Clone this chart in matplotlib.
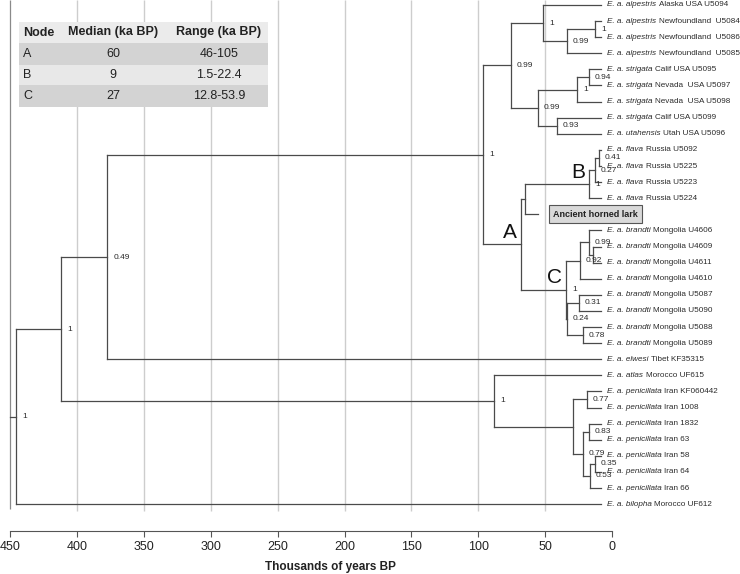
import numpy as np
import matplotlib
matplotlib.use('Agg')
import matplotlib.pyplot as plt
from matplotlib.patches import Rectangle

plt.rcParams['font.family'] = ['Liberation Sans', 'DejaVu Sans']

# ---- tips, top to bottom (ka BP) ----
tip_taxon = ['alpestris', 'alpestris', 'alpestris', 'alpestris',
             'strigata', 'strigata', 'strigata', 'strigata', 'utahensis',
             'flava', 'flava', 'flava', 'flava',
             None,
             'brandti', 'brandti', 'brandti', 'brandti',
             'brandti', 'brandti', 'brandti', 'brandti',
             'elwesi', 'atlas',
             'penicillata', 'penicillata', 'penicillata', 'penicillata',
             'penicillata', 'penicillata', 'penicillata',
             'bilopha']
tip_place = ['Alaska USA U5094', 'Newfoundland  U5084', 'Newfoundland  U5086', 'Newfoundland  U5085',
             'Calif USA U5095', 'Nevada  USA U5097', 'Nevada  USA U5098', 'Calif USA U5099', 'Utah USA U5096',
             'Russia U5092', 'Russia U5225', 'Russia U5223', 'Russia U5224',
             'Ancient horned lark',
             'Mongolia U4606', 'Mongolia U4609', 'Mongolia U4611', 'Mongolia U4610',
             'Mongolia U5087', 'Mongolia U5090', 'Mongolia U5088', 'Mongolia U5089',
             'Tibet KF35315', 'Morocco UF615',
             'Iran KF060442', 'Iran 1008', 'Iran 1832', 'Iran 63',
             'Iran 58', 'Iran 64', 'Iran 66',
             'Morocco UF612']
tip_parent = ['alp', 'nf1', 'nf1', 'nf', 'str2', 'str2', 'str', 'uta', 'uta',
              'fl3', 'fl3', 'fl2', 'B', 'BA',
              'br1', 'br0', 'br0', 'br2', 'n031', 'n031', 'n078', 'n078',
              'n049', 'afr', 'n077', 'n077', 'n083', 'n083', 'n035', 'n035', 'n053',
              'root']
tip_age = 8.2
ancient_age = 55.3

# ---- internal nodes ----
node_id = ['root', 'ingroup', 'n049', 'n1', 'amer', 'alp', 'nf', 'nf1', 'strg', 'str', 'str2', 'uta',
           'A', 'BA', 'B', 'fl2', 'fl3', 'C', 'br2', 'br1', 'br0', 'n024', 'n031', 'n078',
           'afr', 'pern', 'n077', 'n079', 'n083', 'n053', 'n035']
node_parent = [None, 'root', 'ingroup', 'n049', 'n1', 'amer', 'alp', 'nf', 'amer', 'strg', 'str', 'strg',
               'n1', 'A', 'BA', 'B', 'fl2', 'A', 'C', 'br2', 'br1', 'C', 'n024', 'n024',
               'ingroup', 'afr', 'pern', 'pern', 'n079', 'n079', 'n053']
node_age = [445.4, 411.8, 377.4, 96.4, 75.5, 51.6, 33.6, 12.7, 55.3, 26.2, 17.2, 41.1,
            68.0, 65.0, 17.2, 12.7, 9.7, 34.4, 23.9, 17.2, 14.2, 33.6, 24.7, 21.7,
            88.2, 29.1, 18.7, 21.7, 17.2, 16.4, 12.7]
node_support = ['1', '1', '0.49', '1', '0.99', '1', '0.99', '1', '0.99', '1', '0.94', '0.93',
                '', '', '1', '0.27', '0.41', '1', '0.92', '0.99', '', '0.24', '0.31', '0.78',
                '1', '', '0.77', '0.79', '0.83', '0.53', '0.35']
clade_letters = ['A', 'B', 'C']

# ---- inset table ----
table_header = ['Node', 'Median (ka BP)', 'Range (ka BP)']
table_node = ['A', 'B', 'C']
table_median = ['60', '9', '27']
table_range = ['46-105', '1.5-22.4', '12.8-53.9']

xticks = [450, 400, 350, 300, 250, 200, 150, 100, 50, 0]

LINE = '#4a4a4a'
TXT = '#2b2b2b'
W, H = 740, 574


def px(x, y):
    # pixel (from top-left) -> figure fraction
    return x / W, 1 - y / H


def node_y(nid, cache):
    if nid in cache:
        return cache[nid]
    ys = [i for i, p in enumerate(tip_parent) if p == nid]
    ys += [node_y(c, cache) for c, p in zip(node_id, node_parent) if p == nid]
    cache[nid] = (min(ys) + max(ys)) / 2.
    return cache[nid]


def draw_tree(ax):
    ys = {}
    age = dict(zip(node_id, node_age))
    for nid in node_id:
        node_y(nid, ys)

    for nid, sup in zip(node_id, node_support):
        kids = []
        for i, p in enumerate(tip_parent):
            if p == nid:
                a = ancient_age if tip_taxon[i] is None else tip_age
                kids.append((a, i))
        for c, p in zip(node_id, node_parent):
            if p == nid:
                kids.append((age[c], ys[c]))
        ky = [k[1] for k in kids]
        ax.plot([age[nid]] * 2, [min(ky), max(ky)], color=LINE, lw=0.9, zorder=3)
        for a, y in kids:
            ax.plot([age[nid], a], [y, y], color=LINE, lw=0.9, zorder=3)
        if sup:
            ax.annotate(sup, (age[nid], ys[nid]), xytext=(4.3, 0), textcoords='offset points',
                        fontsize=6, va='center', ha='left', color=TXT, zorder=4)

    # stem from 450
    ax.plot([450, age['root']], [ys['root']] * 2, color=LINE, lw=0.9, zorder=3)

    for c in clade_letters:
        ax.annotate(c, (age[c], ys[c]), xytext=(-8, 8.5), textcoords='offset points',
                    fontsize=15, ha='center', va='center', color='#111', zorder=4)

    for i, (tax, place) in enumerate(zip(tip_taxon, tip_place)):
        if tax is None:
            ax.annotate(place, (ancient_age, i), xytext=(10.8, 0), textcoords='offset points',
                        fontsize=6.5, fontweight='bold', va='center', ha='left', color='#222',
                        bbox=dict(boxstyle='square,pad=0.5', fc='#d9d9d9', ec='#555555', lw=0.8),
                        zorder=4)
            continue
        t1 = ax.annotate('E. a. ' + tax, (tip_age, i), xytext=(4.3, 0), textcoords='offset points',
                         fontsize=5.9, style='italic', va='center', ha='left', color=TXT, zorder=4)
        ax.annotate(place, xy=(1, 0.5), xycoords=t1, xytext=(1.8, 0), textcoords='offset points',
                    fontsize=5.9, va='center', ha='left', color=TXT, zorder=4)


def draw_table(fig):
    x0, x1 = 19, 268
    rows = [(22, 43, '#ebebeb'), (43, 65, '#d3d3d3'), (65, 85, '#e8e8e8'), (85, 107, '#d3d3d3')]
    for top, bot, col in rows:
        l, b = px(x0, bot)
        fig.patches.append(Rectangle((l, b), (x1 - x0) / W, (bot - top) / H, transform=fig.transFigure,
                                     fc=col, ec='none', zorder=5))
    cx = [23, 113, 219]
    ha = ['left', 'center', 'center']
    for j, t in enumerate(table_header):
        fig.text(*px(cx[j], 32.5), t, fontsize=9, fontweight='bold', ha=ha[j], va='center',
                 color='#222', zorder=6)
    for i in range(3):
        yc = (rows[i + 1][0] + rows[i + 1][1]) / 2.
        vals = [table_node[i], table_median[i], table_range[i]]
        for j, t in enumerate(vals):
            fig.text(*px(cx[j], yc), t, fontsize=9, ha=ha[j], va='center', color='#222', zorder=6)


def main():
    fig = plt.figure(figsize=(7.4, 5.74), dpi=100)
    ax = fig.add_axes([0, 0, 1, 1])
    ax.patch.set_visible(False)
    # 450 ka -> x=10 px, 50 ka -> x=545 px ; row 0 -> y=5 px, 16.1 px per row
    ax.set_xlim(457.6, -95.7)
    ax.set_ylim(35.34, -0.31)

    ax.vlines(xticks[1:-1], -0.31, 31.4, color='#cdcdcd', lw=1.0, zorder=1)
    ax.vlines([450], -0.31, 31.3, color='#8a8a8a', lw=0.9, zorder=1)

    draw_tree(ax)

    for s in ['top', 'left', 'right']:
        ax.spines[s].set_visible(False)
    ax.spines['bottom'].set_position(('data', 32.67))
    ax.spines['bottom'].set_bounds(0, 450)
    ax.spines['bottom'].set_color('#555555')
    ax.set_xticks(xticks)
    ax.set_yticks([])
    ax.tick_params(axis='x', direction='out', length=4, color='#555555', labelsize=9,
                   labelcolor='#222', pad=3)
    fig.text(*px(330, 567), 'Thousands of years BP', fontsize=8.5, fontweight='bold',
             ha='center', va='center', color='#222')

    draw_table(fig)
    fig.savefig('out.png', dpi=100)


if __name__ == '__main__':
    main()
